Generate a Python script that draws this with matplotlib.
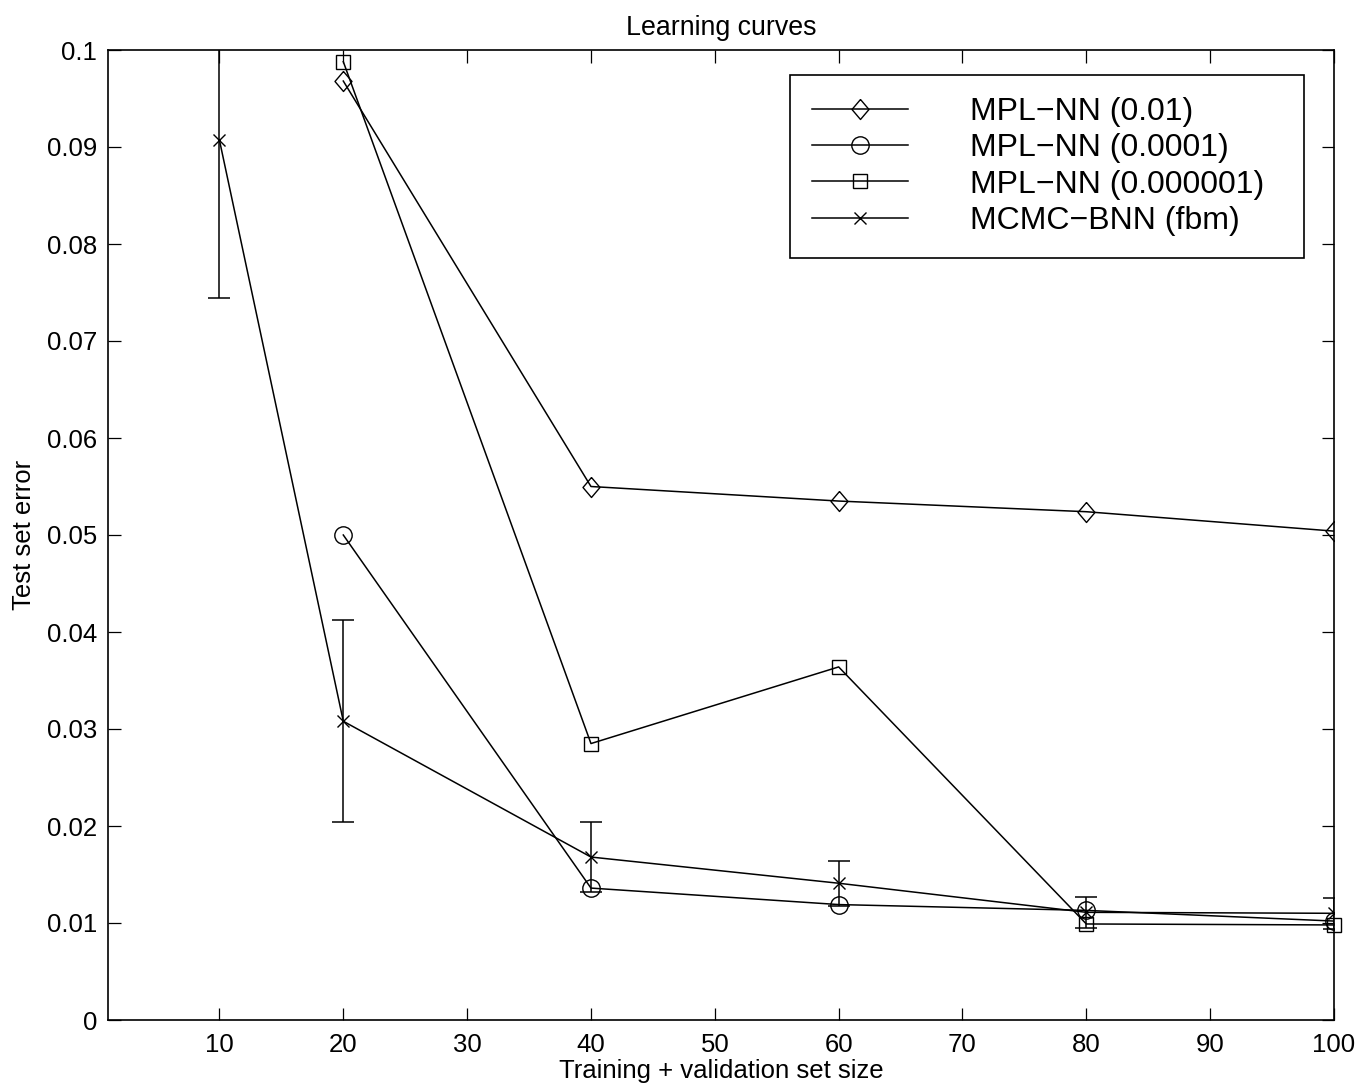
import matplotlib
matplotlib.use("Agg")
import matplotlib.pyplot as plt
import numpy as np

plt.rcParams['font.family'] = ['Liberation Sans', 'DejaVu Sans']

# ---- data ----
x_mpl = [20, 40, 60, 80, 100]
y_mpl_001 = [0.0968, 0.0550, 0.0535, 0.0524, 0.0504]
y_mpl_00001 = [0.0500, 0.0136, 0.0119, 0.0113, 0.0102]
y_mpl_0000001 = [0.0988, 0.0285, 0.0364, 0.0099, 0.0098]

x_mcmc = [10, 20, 40, 60, 80, 100]
y_mcmc = [0.0907, 0.0308, 0.0168, 0.0141, 0.0111, 0.0110]
err_mcmc = [0.0163, 0.0104, 0.0036, 0.0023, 0.0016, 0.0016]

labels = ['MPL\u2212NN (0.01)', 'MPL\u2212NN (0.0001)', 'MPL\u2212NN (0.000001)', 'MCMC\u2212BNN (fbm)']
xticks = [10, 20, 30, 40, 50, 60, 70, 80, 90, 100]
yticks = [0, 0.01, 0.02, 0.03, 0.04, 0.05, 0.06, 0.07, 0.08, 0.09, 0.1]
yticklabels = ['0', '0.01', '0.02', '0.03', '0.04', '0.05', '0.06', '0.07', '0.08', '0.09', '0.1']

fig = plt.figure(figsize=(13.72, 10.9), dpi=100)
ax = fig.add_axes([108/1372, 1 - 1020/1090, (1334-108)/1372, (1020-50)/1090])

lw = 1.1
diamond = [(0, 1), (0.85, 0), (0, -1), (-0.85, 0), (0, 1)]
common = dict(color='black', lw=lw, markerfacecolor='none', markeredgecolor='black', markeredgewidth=1.0)

h1, = ax.plot(x_mpl, y_mpl_001, marker=diamond, ms=14.4, **common)
h2, = ax.plot(x_mpl, y_mpl_00001, marker='o', ms=12.5, **common)
h3, = ax.plot(x_mpl, y_mpl_0000001, marker='s', ms=9.6, clip_on=False, **common)
ax.errorbar(x_mcmc, y_mcmc, yerr=err_mcmc, fmt='none', ecolor='black', elinewidth=lw,
            capsize=7.8, capthick=lw)
h4, = ax.plot(x_mcmc, y_mcmc, marker='x', ms=8.6, **common)

ax.set_xlim(1, 100)
ax.set_ylim(0, 0.1)
ax.set_xticks(xticks)
ax.set_yticks(yticks)
ax.set_yticklabels(yticklabels)
ax.tick_params(direction='in', length=9, width=0.9, top=True, right=True, labelsize=18.5, colors='black')
ax.tick_params(axis='y', pad=8)
ax.tick_params(axis='x', pad=9)
for s in ax.spines.values():
    s.set_linewidth(1.2)
    s.set_color('black')

ax.set_title('Learning curves', fontsize=19.3, pad=11)
ax.set_xlabel('Training + validation set size', fontsize=18.5, labelpad=2)
ax.set_ylabel('Test set error', fontsize=18.5, labelpad=8)

leg = ax.legend([h1, h2, h3, h4], [l + '  ' for l in labels],
                loc='upper right', bbox_to_anchor=(1 - 30/1226, 1 - 25/970), borderaxespad=0,
                fontsize=23, fancybox=False, edgecolor='black', framealpha=1,
                handlelength=3.0, handletextpad=1.95, labelspacing=0.2, borderpad=0.68)
leg.get_frame().set_linewidth(1.2)

fig.savefig('out.png', dpi=100)
